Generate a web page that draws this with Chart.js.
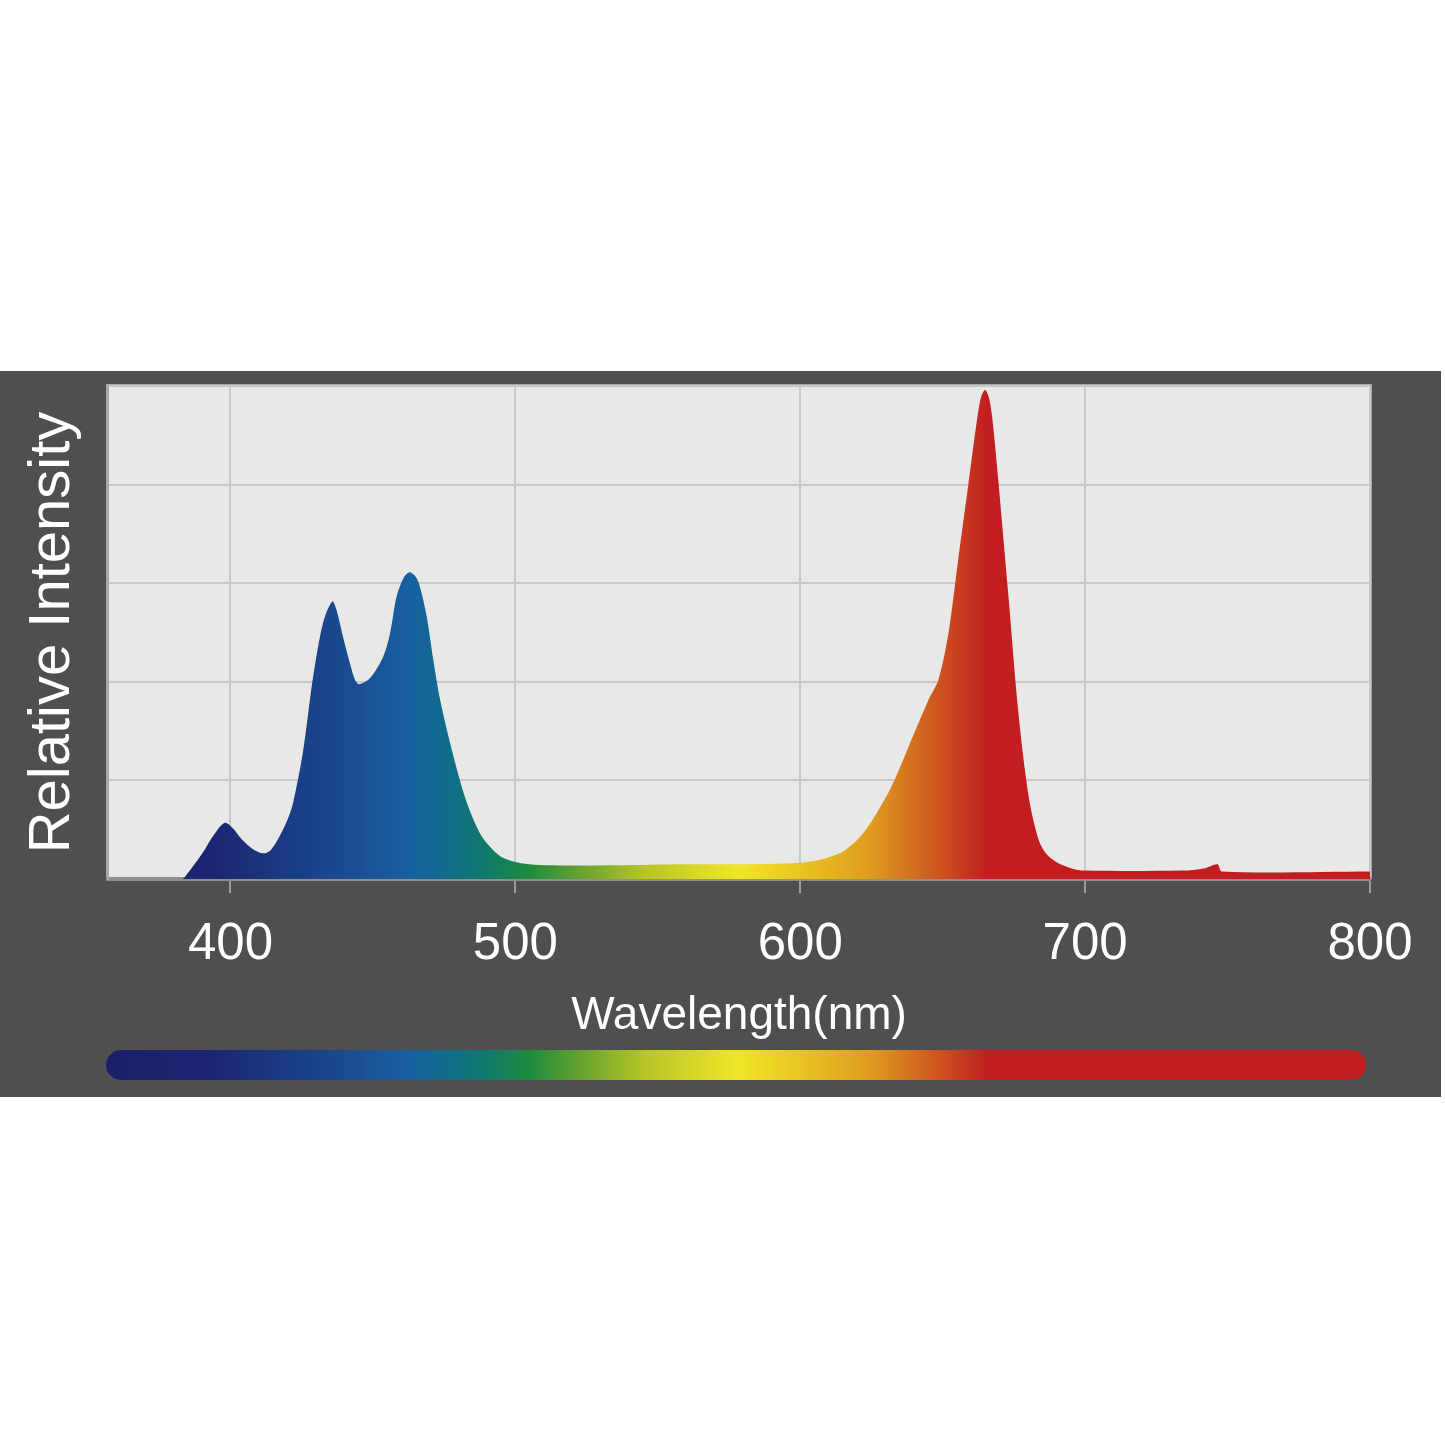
<!DOCTYPE html>
<html>
<head>
<meta charset="utf-8">
<script src="https://cdn.jsdelivr.net/npm/chart.js@4/dist/chart.umd.min.js"></script>
<style>
  html, body { margin: 0; padding: 0; background: #ffffff; }
  #wrap { width: 1445px; height: 1445px; position: relative; }
</style>
</head>
<body>
<div id="wrap"><canvas id="c"></canvas></div>
<script>
// ---- data ----
const wavelengths = [357, 383, 385, 388, 391, 394, 398, 401, 404, 408, 411.5, 414, 417, 420, 422,
  425.5, 429, 432.5, 435.7, 437.2, 439.5, 441.9, 443.7, 445.2, 448.9, 453.6, 456, 458.3, 460.7,
  462.8, 465, 466.5, 468.9, 471.2, 473.6, 478.3, 483, 488, 492, 496, 502, 511, 535, 560, 582,
  600, 607, 611, 615, 620, 624, 628, 632, 638, 645, 648.5, 652, 655.5, 659, 662, 663.5, 664.9,
  666.3, 667.5, 669.5, 673.1, 676.6, 680.2, 683.7, 686.5, 690, 695, 700, 734, 742, 746.5, 748, 800];
const intensity = [0, 0, 1.2, 3.5, 6, 8.8, 11.4, 10.2, 8, 6, 5.2, 5.8, 8.4, 12, 15.5,
  26, 41, 52, 56.3, 54.6, 49.1, 43.8, 40.4, 39.5, 40.7, 45.1, 49.8, 57.3, 61,
  62.2, 61.3, 59.3, 53.2, 44.4, 36.3, 24.8, 15.4, 8.8, 6, 4.2, 3.2, 2.8, 2.8, 3.0, 3.0,
  3.3, 3.9, 4.6, 5.6, 7.9, 10.8, 14.5, 18.7, 26.8, 36.3, 40.4, 49.8, 65, 80, 93, 97.8, 99.2,
  97.5, 93, 81, 57.3, 33.6, 16.7, 7.9, 5.0, 3.4, 2.2, 1.7, 1.7, 2.2, 3.0, 1.5, 1.5];
const xTicks = [400, 500, 600, 700, 800];
const xMin = 357, xMax = 800;
const yMin = 0, yMax = 100, yStep = 20;
const spectrumWl = [357, 395, 420, 445, 463, 478, 490, 505, 520, 545, 578, 605, 625, 642, 655, 666, 800];
const spectrumColors = ['#1b1f68', '#1d2674', '#1a3c84', '#1a4f92', '#1760a2', '#0f6e86', '#107a6a',
  '#1e8c3e', '#5a9e30', '#b8c428', '#f0e628', '#e8bc22', '#e09a20', '#d2681f', '#c8401f', '#c21d20', '#c21d20'];
const xTitle = 'Wavelength(nm)';
const yTitle = 'Relative Intensity';

const FONT = '"Liberation Sans", Arial, Helvetica, sans-serif';

function spectrumGradient(chart, x0px, x1px) {
  const ctx = chart.ctx;
  const xs = chart.scales.x;
  const g = ctx.createLinearGradient(x0px, 0, x1px, 0);
  for (let i = 0; i < spectrumWl.length; i++) {
    const p = xs.getPixelForValue(spectrumWl[i]);
    let o = (p - x0px) / (x1px - x0px);
    o = Math.max(0, Math.min(1, o));
    g.addColorStop(o, spectrumColors[i]);
  }
  return g;
}

const backgroundPlugin = {
  id: 'panel',
  beforeDraw(chart) {
    const {ctx, chartArea} = chart;
    const xs = chart.scales.x;
    ctx.save();
    ctx.fillStyle = '#ffffff';
    ctx.fillRect(0, 0, chart.width, chart.height);
    ctx.fillStyle = '#4f4f4f';
    ctx.fillRect(0, chartArea.top - 15, chartArea.right + 71, xs.bottom - (chartArea.top - 15));
    // plot frame
    ctx.fillStyle = '#a8a8a8';
    ctx.fillRect(chartArea.left - 2, chartArea.top - 2, chartArea.right - chartArea.left + 4, chartArea.bottom - chartArea.top + 2);
    ctx.fillStyle = '#e8e8e7';
    ctx.fillRect(chartArea.left, chartArea.top, chartArea.right - chartArea.left, chartArea.bottom - chartArea.top);
    ctx.restore();
  },
  afterDraw(chart) {
    const {ctx, chartArea} = chart;
    const xs = chart.scales.x;
    // spectrum colour bar
    const left = chartArea.left - 2, right = chartArea.right - 4;
    const top = xs.bottom - 47, h = 30, r = h / 2;
    ctx.save();
    ctx.beginPath();
    ctx.moveTo(left + r, top);
    ctx.lineTo(right - r, top);
    ctx.arc(right - r, top + r, r, -Math.PI / 2, Math.PI / 2);
    ctx.lineTo(left + r, top + h);
    ctx.arc(left + r, top + r, r, Math.PI / 2, Math.PI * 1.5);
    ctx.closePath();
    ctx.fillStyle = spectrumGradient(chart, left, right);
    ctx.fill();
    ctx.restore();
  }
};

new Chart(document.getElementById('c'), {
  type: 'line',
  data: {
    datasets: [{
      data: wavelengths.map((w, i) => ({x: w, y: intensity[i]})),
      fill: 'origin',
      borderWidth: 0,
      borderColor: 'rgba(0,0,0,0)',
      pointRadius: 0,
      tension: 0.3,
      backgroundColor: (c) => {
        const chart = c.chart;
        if (!chart.chartArea) return '#1760a2';
        return spectrumGradient(chart, chart.chartArea.left, chart.chartArea.right);
      }
    }]
  },
  options: {
    responsive: true,
    maintainAspectRatio: false,
    animation: false,
    devicePixelRatio: 1,
    layout: { padding: { top: 386, left: 0, right: 75, bottom: 348 } },
    plugins: { legend: { display: false }, tooltip: { enabled: false } },
    scales: {
      x: {
        type: 'linear',
        min: xMin, max: xMax,
        afterBuildTicks: (s) => { s.ticks = xTicks.map(v => ({value: v})); },
        afterFit: (s) => { s.height = 218; },
        grid: { color: '#c8c8c8', lineWidth: 2, tickColor: '#9c9c9c', tickLength: 14, tickWidth: 2 },
        border: { color: '#8f8f8f', width: 4 },
        ticks: { color: '#ffffff', padding: 21, maxRotation: 0, font: { family: FONT, size: 51 } },
        title: { display: true, text: xTitle, color: '#ffffff', padding: { top: 0, bottom: 53 },
                 font: { family: FONT, size: 46 } }
      },
      y: {
        min: yMin, max: yMax,
        ticks: { stepSize: yStep, display: false },
        afterFit: (s) => { s.width = 108; },
        grid: { color: '#c8c8c8', lineWidth: 2, drawTicks: false },
        border: { color: '#a8a8a8', width: 2 },
        title: { display: true, text: yTitle, color: '#ffffff', padding: { top: 18, bottom: 0 },
                 font: { family: FONT, size: 58 } }
      }
    }
  },
  plugins: [backgroundPlugin]
});
</script>
</body>
</html>
